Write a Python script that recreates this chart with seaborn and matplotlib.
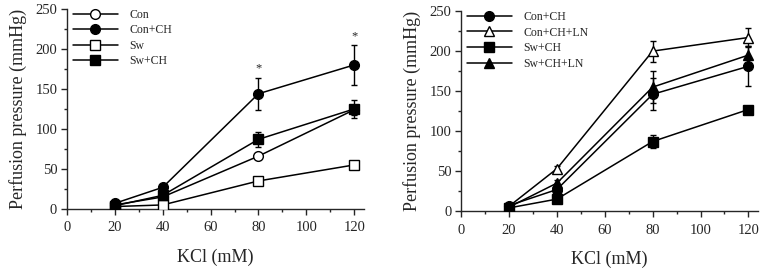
import numpy as np
import matplotlib
matplotlib.use("Agg")
import matplotlib.pyplot as plt
import seaborn as sns
import pandas as pd

# data
kcl = [20, 40, 80, 120]

con = [5, 15, 66, 124]
con_err = [1, 2, 4, 6]
con_ch = [7, 27, 144, 180]
con_ch_err = [2, 3, 20, 25]
sw = [3, 5, 35, 55]
sw_err = [1, 1, 3, 3]
sw_ch = [4, 17, 87, 125]
sw_ch_err = [1, 3, 9, 11]

r_con_ch = [7, 27, 146, 181]
r_con_ch_err = [2, 3, 20, 25]
r_con_ch_ln = [6, 53, 200, 217]
r_con_ch_ln_err = [2, 4, 13, 12]
r_sw_ch = [4, 15, 87, 127]
r_sw_ch_err = [1, 2, 8, 3]
r_sw_ch_ln = [5, 35, 155, 195]
r_sw_ch_ln_err = [2, 4, 20, 12]

sns.set_style("ticks")
plt.rcParams['font.family'] = ['Liberation Serif', 'DejaVu Serif']

fig = plt.figure(figsize=(7.61, 2.71), dpi=100)
ax1 = fig.add_axes([0.088, 0.229, 0.390, 0.738])
ax2 = fig.add_axes([0.606, 0.221, 0.390, 0.738])


def draw(ax, label, y, err, marker, filled):
    df = pd.DataFrame({"KCl": kcl, "P": y})
    ax.errorbar(kcl, y, yerr=err, fmt="none", ecolor="black",
                elinewidth=1, capsize=2.5, capthick=1, zorder=2)
    sns.lineplot(data=df, x="KCl", y="P", ax=ax, color="black", lw=1.1,
                 marker=marker, markersize=7 if marker != "^" else 7.5,
                 markerfacecolor="black" if filled else "white",
                 markeredgecolor="black", markeredgewidth=1,
                 label=label, zorder=3)


draw(ax1, "Con", con, con_err, "o", False)
draw(ax1, "Con+CH", con_ch, con_ch_err, "o", True)
draw(ax1, "Sw", sw, sw_err, "s", False)
draw(ax1, "Sw+CH", sw_ch, sw_ch_err, "s", True)
ax1.text(80, 168, "*", ha="center", va="bottom", fontsize=9)
ax1.text(120, 208, "*", ha="center", va="bottom", fontsize=9)

draw(ax2, "Con+CH", r_con_ch, r_con_ch_err, "o", True)
draw(ax2, "Con+CH+LN", r_con_ch_ln, r_con_ch_ln_err, "^", False)
draw(ax2, "Sw+CH", r_sw_ch, r_sw_ch_err, "s", True)
draw(ax2, "Sw+CH+LN", r_sw_ch_ln, r_sw_ch_ln_err, "^", True)

for ax in (ax1, ax2):
    ax.set_xlim(0, 124)
    ax.set_ylim(0, 250)
    ax.set_xticks([0, 20, 40, 60, 80, 100, 120])
    ax.set_xticks(np.arange(10, 121, 20), minor=True)
    ax.set_yticks([0, 50, 100, 150, 200, 250])
    ax.set_yticks(np.arange(25, 250, 50), minor=True)
    ax.tick_params(which="major", length=4, width=1, labelsize=10.5, pad=3)
    ax.tick_params(axis="x", which="major", pad=5)
    ax.tick_params(which="minor", length=2.5, width=1)
    ax.set_xlabel("KCl (mM)", fontsize=13, labelpad=10)
    ax.set_ylabel("Perfusion pressure (mmHg)", fontsize=13, labelpad=6)
    sns.despine(ax=ax)
    for s in ("left", "bottom"):
        ax.spines[s].set_linewidth(1)
    ax.legend(loc="upper left", frameon=False, fontsize=8.5, handlelength=3.8,
              labelspacing=0.3, borderaxespad=0.1, handletextpad=1.0,
              bbox_to_anchor=(0.0, 1.03))

fig.savefig("out.png", dpi=100)
